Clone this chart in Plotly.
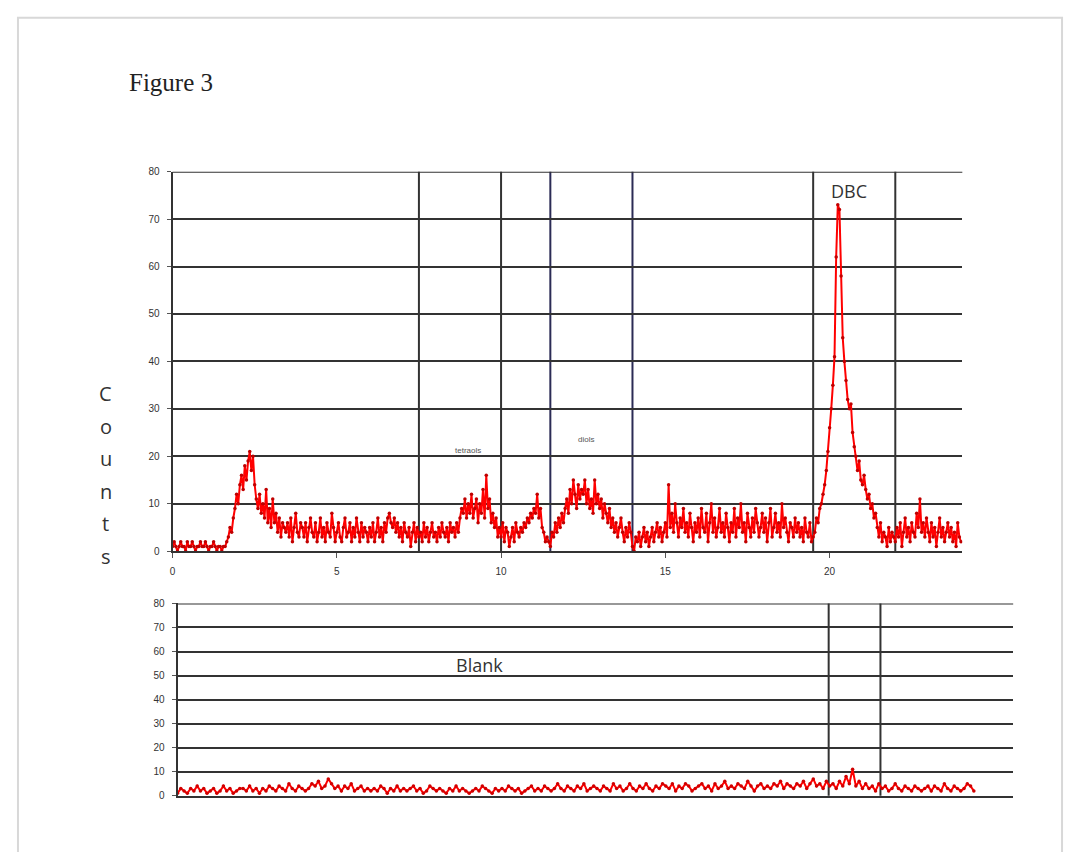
import numpy as np
import plotly.graph_objects as go

# ---------------- data ----------------
# Sample DBC run: counts every 0.05 min from 0 to 24
sample_counts = [
    1, 2, 1, 0, 1, 2, 1, 1, 0, 2, 1, 1, 2, 1, 0, 1, 1, 2, 1, 1,            # 0
    2, 1, 0, 1, 1, 2, 1, 0, 1, 1, 0, 1, 1, 2, 3, 5, 4, 7, 9, 12,          # 1
    10, 14, 16, 13, 18, 15, 19, 21, 17, 20, 14, 11, 9, 12, 8, 10, 7, 13, 6, 9,   # 2
    5, 11, 6, 8, 4, 7, 3, 6, 5, 4, 6, 3, 7, 2, 5, 8, 4, 3, 6, 5,          # 3
    3, 6, 2, 5, 7, 4, 3, 6, 2, 4, 7, 3, 5, 2, 6, 4, 3, 8, 5, 2,           # 4
    4, 6, 3, 2, 5, 7, 3, 4, 6, 2, 5, 3, 7, 4, 2, 6, 3, 5, 4, 2,           # 5
    5, 3, 6, 2, 4, 7, 3, 5, 2, 6, 4, 7, 8, 6, 5, 7, 4, 6, 3, 5,           # 6
    2, 6, 4, 3, 5, 1, 4, 6, 2, 5, 3, 4, 2, 6, 3, 5, 2, 4, 6, 3,           # 7
    4, 2, 5, 3, 6, 4, 3, 5, 2, 6, 4, 5, 3, 6, 4, 7, 9, 8, 11, 7,          # 8
    10, 8, 12, 7, 9, 11, 6, 10, 8, 13, 7, 16, 9, 11, 6, 8, 5, 7, 3, 5,    # 9
    3, 6, 2, 5, 4, 1, 3, 5, 2, 6, 4, 3, 5, 4, 6, 5, 7, 6, 8, 7,           # 10
    9, 8, 12, 7, 9, 5, 4, 2, 3, 2, 1, 4, 3, 6, 4, 7, 5, 8, 6, 9,          # 11
    11, 8, 13, 10, 15, 12, 9, 14, 11, 13, 12, 15, 10, 13, 9, 11, 8, 15, 10, 12,  # 12
    9, 11, 7, 10, 8, 6, 9, 5, 7, 4, 6, 3, 5, 7, 4, 2, 5, 3, 6, 4,         # 13
    1, 0, 3, 2, 4, 1, 3, 5, 2, 4, 1, 3, 5, 2, 4, 6, 3, 5, 2, 4,           # 14
    6, 3, 14, 5, 8, 4, 10, 6, 3, 7, 5, 9, 4, 6, 3, 8, 5, 2, 6, 4,         # 15
    7, 3, 9, 5, 4, 8, 2, 6, 10, 4, 7, 3, 5, 9, 4, 6, 3, 8, 5, 2,          # 16
    6, 4, 9, 3, 7, 5, 10, 4, 6, 2, 8, 5, 3, 7, 4, 9, 6, 3, 5, 8,          # 17
    4, 7, 2, 6, 9, 3, 5, 8, 4, 6, 3, 10, 5, 7, 4, 2, 6, 5, 3, 7,          # 18
    4, 6, 3, 5, 2, 7, 4, 3, 6, 2, 3, 4, 7, 6, 9, 10, 12, 14, 17, 21,      # 19
    26, 30, 35, 41, 62, 73, 72, 58, 45, 40, 36, 32, 30, 31, 25, 22, 20, 17, 19, 15,  # 20
    14, 16, 13, 11, 12, 9, 10, 7, 8, 5, 3, 6, 2, 4, 3, 1, 5, 2, 4, 3,     # 21
    2, 5, 3, 6, 1, 4, 7, 3, 5, 2, 6, 4, 3, 8, 5, 11, 4, 6, 3, 7,          # 22
    4, 2, 6, 3, 5, 1, 4, 7, 3, 5, 2, 4, 6, 3, 5, 2, 4, 1, 6, 3,           # 23
    2,
]
sample_time = np.round(np.arange(len(sample_counts)) * 0.05, 2)

# Blank run: counts every 0.1 min
blank_counts = [
    1, 3, 2, 1, 3, 2, 4, 2, 3, 1,
    2, 3, 1, 2, 4, 2, 3, 1, 2, 3,
    3, 2, 4, 2, 3, 1, 3, 2, 4, 3,
    2, 4, 3, 2, 5, 3, 2, 4, 3, 2,
    3, 5, 4, 6, 3, 4, 7, 5, 3, 4,
    2, 4, 3, 5, 2, 3, 4, 2, 3, 2,
    3, 2, 4, 3, 1, 3, 2, 4, 2, 3,
    2, 3, 4, 2, 3, 1, 2, 4, 3, 2,
    3, 2, 1, 3, 2, 4, 2, 3, 2, 1,
    2, 3, 2, 4, 3, 2, 1, 3, 2, 3,
    2, 4, 3, 2, 3, 1, 2, 3, 4, 2,
    3, 2, 4, 3, 2, 3, 5, 3, 2, 4,
    3, 2, 4, 3, 5, 2, 3, 4, 3, 2,
    4, 3, 2, 5, 3, 4, 2, 3, 5, 3,
    2, 4, 3, 5, 3, 2, 4, 3, 5, 4,
    3, 5, 2, 4, 3, 5, 4, 2, 3, 4,
    5, 3, 4, 2, 5, 3, 4, 6, 3, 4,
    3, 5, 4, 3, 6, 4, 2, 4, 5, 3,
    4, 3, 5, 4, 6, 3, 5, 4, 3, 5,
    4, 6, 3, 5, 7, 4, 5, 3, 6, 4,
    5, 3, 6, 4, 8, 5, 11, 4, 6, 3,
    5, 3, 4, 2, 5, 3, 4, 2, 3, 5,
    3, 2, 4, 3, 2, 4, 3, 2, 3, 4,
    2, 4, 3, 2, 5, 3, 2, 4, 3, 2,
    3, 5, 4, 2,
]
blank_time = np.round(np.arange(len(blank_counts)) * 0.1, 2)

sample_markers_x = [7.5, 10, 11.5, 14, 19.5, 22]
sample_marker_colors = ["#333333", "#333333", "#2b2b55", "#2b2b55", "#333333", "#333333"]
blank_markers_x = [19.87, 21.45]

y_ticks = [0, 10, 20, 30, 40, 50, 60, 70, 80]
x_ticks = [0, 5, 10, 15, 20]
peak_labels = [("tetraols", 9.0, 21.3), ("diols", 12.6, 23.6)]

# ---------------- figure ----------------
W, H = 1076, 852
fig = go.Figure()

fig.add_trace(go.Scatter(
    x=sample_time, y=sample_counts, mode="lines+markers",
    line=dict(color="#ff0000", width=2),
    marker=dict(color="#c00000", size=3.5),
    xaxis="x", yaxis="y", showlegend=False, hoverinfo="x+y"))

fig.add_trace(go.Scatter(
    x=blank_time, y=blank_counts, mode="lines+markers",
    line=dict(color="#ff0000", width=2),
    marker=dict(color="#d00000", size=3.5),
    xaxis="x2", yaxis="y2", showlegend=False, hoverinfo="x+y"))

tickfont = dict(family="Liberation Sans, Arial, sans-serif", size=10, color="#333333")

fig.update_layout(
    width=W, height=H,
    margin=dict(l=0, r=0, t=0, b=0),
    paper_bgcolor="white", plot_bgcolor="white",
    xaxis=dict(domain=[170 / W, 962 / W], range=[0, 24.04], tickvals=x_ticks,
               showgrid=False, zeroline=False, showline=True, linecolor="#333333",
               linewidth=2, ticks="outside", ticklen=5, tickcolor="#555555",
               tickfont=tickfont, ticklabelstandoff=5, anchor="y"),
    yaxis=dict(domain=[1 - 553 / H, 1 - 168 / H], range=[0, 80], tickvals=y_ticks,
               showgrid=True, gridcolor="#333333", gridwidth=2, zeroline=False,
               showline=True, linecolor="#333333", linewidth=2, ticks="outside",
               ticklen=4, tickcolor="#555555", tickfont=tickfont,
               ticklabelstandoff=5, anchor="x"),
    xaxis2=dict(domain=[175 / W, 1013 / W], range=[0, 25.5], showticklabels=False,
                showgrid=False, zeroline=False, showline=True, linecolor="#333333",
                linewidth=2, ticks="", anchor="y2"),
    yaxis2=dict(domain=[1 - 801 / H, 1 - 606 / H], range=[0, 80], tickvals=y_ticks,
                showgrid=True, gridcolor="#333333", gridwidth=2, zeroline=False,
                showline=True, linecolor="#333333", linewidth=2, ticks="outside",
                ticklen=4, tickcolor="#555555", tickfont=tickfont,
                ticklabelstandoff=5, anchor="x2"),
)

shapes = []
for xv, col in zip(sample_markers_x, sample_marker_colors):
    shapes.append(dict(type="line", xref="x", yref="y domain", x0=xv, x1=xv, y0=0, y1=1,
                       line=dict(color=col, width=2), layer="below"))
for xv in blank_markers_x:
    shapes.append(dict(type="line", xref="x2", yref="y2 domain", x0=xv, x1=xv, y0=0, y1=1,
                       line=dict(color="#333333", width=2), layer="below"))
# top gridlines at the range edge (80)
shapes.append(dict(type="line", xref="x domain", yref="y", x0=0, x1=1, y0=80, y1=80,
                   line=dict(color="#333333", width=2), layer="below"))
shapes.append(dict(type="line", xref="x2 domain", yref="y2", x0=0, x1=1, y0=80, y1=80,
                   line=dict(color="#333333", width=2), layer="below"))
# page frame
shapes.append(dict(type="rect", xref="paper", yref="paper",
                   x0=15 / W, x1=1062 / W, y0=-0.01, y1=1 - 12 / H,
                   line=dict(color="#d8d8d8", width=2), layer="below"))
fig.update_layout(shapes=shapes)

annotations = [
    dict(text="Figure 3", xref="paper", yref="paper", x=124 / W, y=1 - 78 / H,
         xanchor="left", yanchor="middle", showarrow=False,
         font=dict(family="Liberation Serif, Times New Roman, serif", size=25, color="#222222")),
    dict(text="DBC", xref="x", yref="y", x=20.6, y=76, showarrow=False,
         font=dict(family="Open Sans, sans-serif", size=18, color="#333333")),
    dict(text="Blank", xref="x2", yref="y2", x=9.22, y=54.5, showarrow=False,
         font=dict(family="Open Sans, sans-serif", size=18, color="#333333")),
]
for txt, xv, yv in peak_labels:
    annotations.append(dict(text=txt, xref="x", yref="y", x=xv, y=yv, showarrow=False,
                            font=dict(family="Liberation Sans, sans-serif", size=8, color="#555555")))
for i, ch in enumerate("Counts"):
    annotations.append(dict(text=ch, xref="paper", yref="paper", x=103 / W,
                            y=1 - (393 + i * 33) / H, showarrow=False,
                            xanchor="center", yanchor="middle",
                            font=dict(family="Open Sans, sans-serif", size=20, color="#333333")))
fig.update_layout(annotations=annotations)

fig.write_html("out.html")
